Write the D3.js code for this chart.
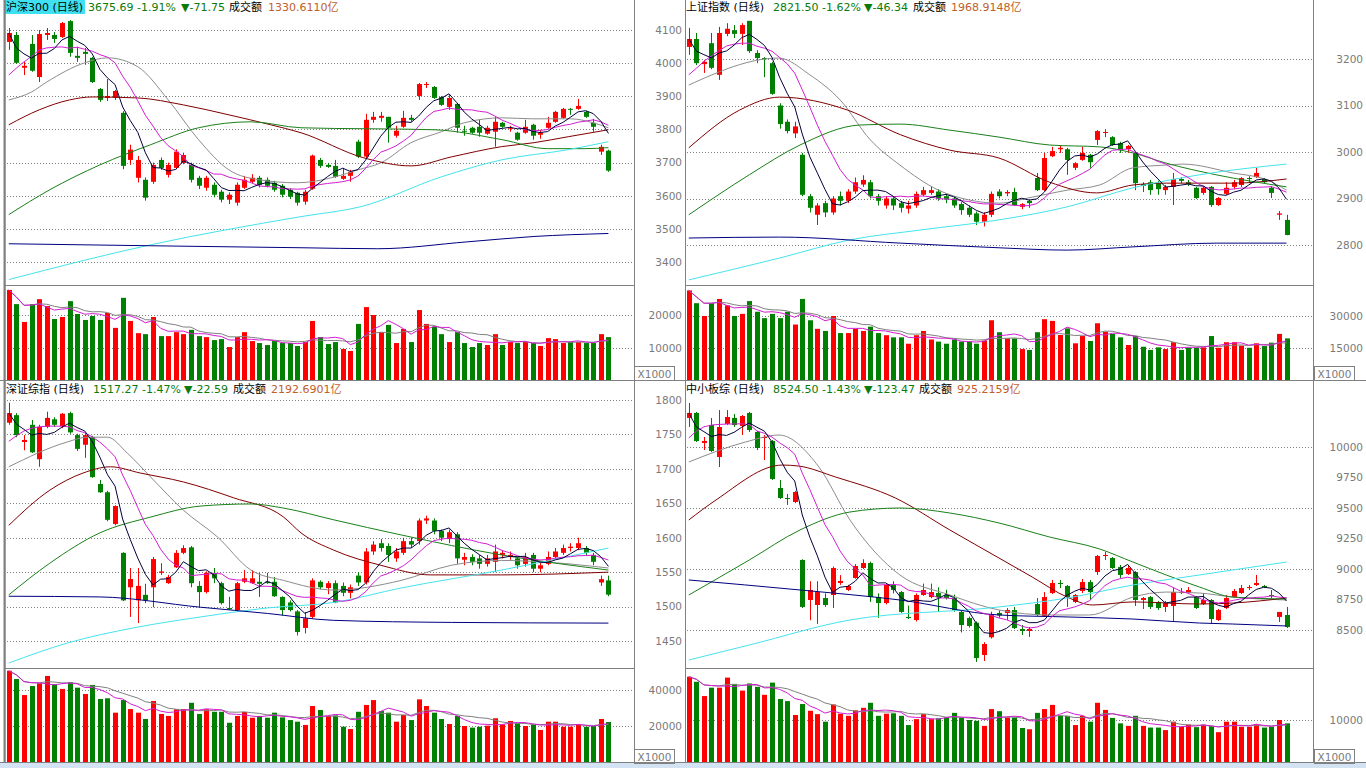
<!DOCTYPE html>
<html><head><meta charset="utf-8">
<script src="https://cdn.jsdelivr.net/npm/d3@7"></script>
<style>
html,body{margin:0;padding:0;background:#fff;overflow:hidden}
svg{display:block}
</style></head><body>
<svg id="c" width="1366" height="768"></svg>
<script>
// ---------------- DATA ----------------
// [open, high, low, close]
const hs300Candles = [
[4064,4106,4040,4091],[4085,4094,3998,4001],[3986,4004,3964,3992],[4058,4085,3974,3977],[3958,4100,3943,4088],
[4085,4106,4070,4091],[4085,4094,4061,4073],[4079,4124,4076,4121],[4127,4130,4019,4031],[4022,4049,4004,4016],
[4034,4046,3995,4028],[4016,4019,3940,3943],[3922,3925,3883,3889],[3895,3952,3886,3901],[3895,3919,3889,3916],
[3850,3855,3680,3690],[3708,3754,3693,3739],[3654,3720,3640,3708],[3648,3655,3585,3594],[3642,3700,3636,3693],
[3708,3715,3678,3684],[3663,3700,3655,3693],[3684,3740,3680,3733],[3699,3730,3695,3723],[3693,3700,3640,3648],
[3654,3660,3620,3630],[3624,3660,3615,3654],[3633,3640,3595,3603],[3612,3618,3580,3588],[3588,3610,3575,3603],
[3579,3640,3570,3633],[3624,3660,3620,3648],[3642,3665,3638,3654],[3654,3660,3625,3633],[3648,3655,3625,3630],
[3639,3645,3612,3618],[3630,3635,3595,3603],[3618,3622,3590,3597],[3609,3612,3570,3579],[3582,3618,3573,3612],
[3621,3724,3618,3721],[3708,3714,3684,3690],[3693,3699,3684,3687],[3690,3708,3654,3657],[3651,3684,3648,3660],
[3660,3678,3642,3672],[3763,3769,3714,3718],[3718,3847,3714,3829],[3829,3853,3820,3838],[3835,3853,3823,3841],
[3838,3838,3760,3805],[3781,3811,3775,3796],[3808,3856,3805,3835],[3835,3844,3823,3829],[3901,3940,3889,3937],
[3934,3943,3925,3937],[3928,3931,3892,3895],[3898,3901,3871,3874],[3868,3904,3859,3895],[3877,3880,3790,3805],
[3796,3811,3781,3793],[3805,3808,3787,3790],[3808,3829,3778,3790],[3787,3811,3784,3805],[3793,3838,3748,3823],
[3820,3823,3805,3808],[3802,3811,3793,3805],[3790,3793,3766,3769],[3790,3829,3787,3808],[3814,3817,3769,3781],
[3784,3799,3772,3790],[3805,3838,3802,3820],[3823,3856,3820,3853],[3835,3865,3832,3862],[3862,3865,3844,3859],
[3862,3892,3859,3871],[3853,3856,3835,3838],[3820,3832,3793,3808],[3733,3754,3723,3747.44],[3736,3739,3672,3675.69]];
const hs300Volume = [27600,23300,17900,23300,24800,22700,18800,19400,24200,20300,
18500,19700,18500,20600,16100,25200,18200,14500,14200,19400,
13600,13600,14800,14200,15500,13600,13300,12400,12700,10300,
13300,14800,12100,11500,10900,12100,11500,11500,10600,11800,
18200,13300,11200,11800,9700,9100,17300,22400,20000,14800,
17000,11500,15800,11800,21500,17300,16400,14200,11800,14800,
11500,10300,11500,10900,14200,10900,11800,11500,11800,11500,
10600,13000,12700,11500,11800,11800,11500,11500,14200,13300];
const hs300Ma10Head = [3964,3985,4004,4020,4040,4046,4048,4049,4045];
const hs300Ma20 = [[0,3889],[3,3913],[5,3943],[10,4001],[13,4016],[17,3989],[21,3889],[25,3769],[29,3678],[33,3648],[38,3639],[43,3657],[46,3678],[49,3699],[53,3760],[57,3793],[60,3820],[65,3835],[69,3832],[74,3832],[77,3820],[79,3805]];
const hs300Ma30 = [[0,3814],[4,3859],[8,3889],[11,3898],[17,3895],[23,3874],[29,3844],[34.5,3814],[38.5,3790],[46.8,3714],[53,3690],[58.3,3717],[64.9,3748],[69.2,3760],[73.7,3778],[79,3799]];
const hs300Ma60 = [[0,3543],[5.4,3618],[12,3693],[18.7,3754],[25,3805],[31.9,3823],[38.5,3805],[56,3799],[65,3769],[71,3742],[75.9,3742],[79,3745]];
const hs300Ma120 = [[0,3347],[18.7,3452],[38.5,3537],[46.4,3567],[57,3657],[64.9,3708],[73.7,3739],[79,3763]];
const hs300Ma250 = [[0,3455],[18.7,3449],[38.5,3443],[48.6,3440],[60.5,3461],[69.2,3477],[79,3486]];

const shCandles = [
[3226,3267,3209,3243],[3243,3256,3187,3191],[3189,3198,3170,3194],[3234,3256,3178,3181],[3166,3269,3155,3256],
[3254,3277,3249,3265],[3262,3273,3245,3254],[3254,3277,3230,3273],[3282,3282,3213,3217],[3213,3219,3191,3202],
[3202,3204,3161,3200],[3191,3194,3123,3125],[3100,3105,3050,3060],[3065,3070,3040,3045],[3040,3065,3030,3055],
[2994,2998,2905,2908],[2905,2910,2870,2880],[2865,2890,2843,2885],[2890,2895,2860,2870],[2870,2905,2865,2900],
[2905,2915,2885,2895],[2895,2920,2890,2915],[2915,2945,2910,2935],[2930,2950,2925,2940],[2935,2940,2900,2905],
[2905,2910,2885,2895],[2885,2905,2878,2900],[2900,2905,2875,2885],[2890,2895,2870,2880],[2878,2895,2868,2885],
[2885,2915,2880,2910],[2908,2925,2905,2918],[2912,2925,2908,2918],[2915,2920,2895,2900],[2905,2910,2890,2898],
[2900,2905,2880,2885],[2888,2892,2865,2875],[2880,2885,2860,2865],[2868,2872,2843,2850],[2850,2870,2840,2865],
[2865,2915,2860,2910],[2915,2920,2900,2905],[2911,2918,2905,2914],[2914,2923,2884,2886],[2882,2890,2877,2888],
[2895,2897,2880,2890],[2944,2955,2916,2918],[2918,2998,2916,2987],[2991,3011,2989,3002],[3006,3015,2998,3009],
[3006,3009,2951,2983],[2966,2978,2961,2976],[2983,3011,2981,2998],[2994,2996,2966,2978],[3026,3047,3015,3045],
[3041,3049,3032,3043],[3032,3034,3013,3015],[3019,3022,2998,3004],[3006,3015,2998,3013],[2998,3000,2918,2933],
[2931,2935,2914,2927],[2935,2940,2908,2918],[2933,2938,2908,2920],[2918,2929,2908,2925],[2925,2955,2886,2942],
[2942,2946,2933,2938],[2935,2940,2927,2931],[2923,2925,2899,2901],[2912,2927,2908,2923],[2925,2927,2882,2886],
[2886,2903,2884,2901],[2910,2935,2908,2923],[2925,2940,2920,2935],[2929,2946,2925,2944],[2944,2948,2933,2942],
[2946,2966,2944,2955],[2942,2944,2933,2935],[2923,2927,2901,2912],[2865,2873,2854,2867.84],[2854,2865,2821,2821.5]];
const shVolume = [42000,36000,30000,36000,38000,35000,30000,31000,37000,32000,
29000,31000,29000,32000,26000,38000,28000,24000,23000,30000,
22000,22000,24000,23000,25000,22000,21000,20000,20000,17000,
21000,23000,19000,18000,17000,19000,18000,18000,17000,18500,
28000,22400,19500,19500,14500,14100,22400,28500,27700,21100,
24200,17200,20600,18300,26600,22600,21600,20000,16400,20600,
15600,14100,15300,14500,17700,14100,15100,15100,15300,20600,
15100,17700,17700,16100,15100,17200,15900,17500,21600,19500];
const shMa10Head = [3166,3180,3195,3207,3218,3228,3232,3234,3234];
const shMa20 = [[0,3144],[11.9,3202],[16,3166],[20,3112],[24,3026],[27.9,2972],[33,2918],[37,2897],[41,2890],[45.4,2903],[50,2918],[54.3,2929],[58.7,2966],[63.1,2972],[65.3,2974],[71.9,2955],[76.4,2940],[79,2918]];
const shMa30 = [[0,3009],[6.7,3090],[12,3118],[21,3090],[28,3037],[34.5,3004],[41,2987],[47.7,2935],[53.9,2912],[58.7,2929],[63.1,2933],[71.9,2933],[79,2942]];
const shMa60 = [[0,2865],[8,2951],[14.7,3015],[22.6,3058],[27.9,3060],[34.5,3047],[41,3032],[47.7,3015],[54.3,3011],[58.7,2998],[63.1,2976],[69.7,2951],[79,2925]];
const shMa120 = [[0,2725],[12,2772],[21.3,2811],[30.5,2832],[41,2854],[50,2882],[58.7,2923],[67.5,2951],[79,2974]];
const shMa250 = [[0,2815],[12,2817],[28,2804],[41,2794],[50,2789],[58.7,2796],[69.7,2804],[79,2804]];

const szzzCandles = [
[1767,1796,1764,1781],[1778,1781,1746,1749],[1739,1749,1727,1742],[1764,1771,1723,1724],[1714,1764,1703,1761],
[1761,1783,1759,1774],[1772,1775,1761,1764],[1762,1781,1759,1780],[1781,1783,1751,1753],[1749,1751,1726,1729],
[1735,1752,1716,1749],[1746,1748,1687,1688],[1678,1684,1665,1666],[1666,1668,1624,1626],[1620,1647,1618,1646],
[1578,1579,1508,1509],[1528,1556,1485,1540],[1509,1556,1476,1530],[1517,1533,1505,1509],[1528,1572,1499,1569],
[1549,1563,1546,1551],[1534,1546,1533,1543],[1557,1582,1556,1578],[1578,1589,1576,1585],[1586,1588,1528,1534],
[1530,1537,1499,1521],[1521,1551,1519,1549],[1549,1556,1534,1541],[1534,1536,1503,1505],[1498,1514,1495,1496],
[1495,1536,1493,1534],[1536,1553,1534,1541],[1534,1553,1533,1541],[1536,1549,1514,1533],[1536,1549,1533,1534],
[1536,1543,1514,1515],[1514,1515,1487,1495],[1506,1509,1493,1495],[1493,1495,1458,1463],[1469,1492,1461,1483],
[1485,1541,1483,1538],[1536,1538,1525,1528],[1527,1537,1518,1534],[1534,1538,1505,1506],[1530,1535,1515,1520],
[1520,1532,1512,1528],[1545,1550,1530,1535],[1535,1585,1532,1580],[1580,1595,1575,1590],[1592,1598,1580,1585],
[1588,1592,1565,1575],[1570,1585,1565,1580],[1578,1600,1575,1595],[1595,1600,1585,1590],[1595,1628,1590,1625],
[1625,1632,1620,1628],[1625,1628,1605,1610],[1610,1612,1595,1600],[1598,1612,1592,1608],[1605,1608,1562,1570],
[1568,1578,1560,1572],[1572,1576,1560,1565],[1570,1575,1555,1562],[1562,1575,1558,1570],[1565,1590,1550,1580],
[1575,1582,1570,1578],[1572,1580,1568,1575],[1570,1572,1555,1560],[1562,1578,1558,1572],[1575,1578,1550,1555],
[1555,1565,1550,1560],[1562,1580,1560,1572],[1572,1585,1570,1580],[1578,1590,1575,1585],[1585,1592,1580,1587],
[1585,1600,1582,1592],[1585,1588,1575,1578],[1575,1578,1560,1565],[1535,1545,1530,1539.86],[1538,1545,1515,1517.27]];
const szzzVolume = [50700,46100,37200,42200,43700,47800,43200,40600,44300,41300,
37800,42800,35000,35400,27400,34400,29400,27400,23900,33900,
26700,25600,29300,29400,32900,26700,29300,27900,27900,21800,
25600,27800,24600,25600,24600,27400,24800,23300,22400,20600,
31100,28900,25600,25900,19600,18300,27900,31700,34400,28300,
27400,22400,26100,23300,34800,31100,27400,23900,21100,25600,
20000,19100,19600,20200,24300,20900,22800,21500,20000,20900,
17800,22400,22400,19600,19600,20600,19600,20000,23900,22200];
const szzzMa10Head = [1740,1748,1755,1759,1761,1762,1762,1762,1761];
const szzzMa20 = [[0,1703],[7.7,1739],[10.3,1746],[13,1746],[15.6,1723],[18.7,1688],[23,1640],[27.5,1601],[31.9,1553],[36.2,1538],[42.8,1524],[51.7,1538],[58.3,1560],[64.9,1567],[71.5,1564],[79,1556]];
const szzzMa30 = [[0,1618],[5.4,1669],[9.8,1694],[13.4,1703],[17.3,1694],[23,1681],[29.6,1658],[36.2,1630],[38.5,1607],[42.8,1582],[49,1560],[55.6,1546],[64.9,1546],[79,1550]];
const szzzMa60 = [[0,1517],[5.4,1563],[12,1607],[18.7,1630],[25.3,1646],[31.9,1649],[36.2,1643],[42.8,1626],[51.7,1604],[64.9,1575],[79,1553]];
const szzzMa120 = [[0,1418],[7.7,1447],[16.4,1469],[25.3,1485],[34.1,1498],[42.8,1506],[51.7,1527],[64.9,1553],[79,1585]];
const szzzMa250 = [[0,1515],[12,1514],[25.3,1499],[34.1,1490],[42.8,1480],[58.3,1477],[79,1476]];

const zxbCandles = [
[10238,10361,10164,10279],[10279,10287,10041,10049],[10033,10082,9975,10049],[10180,10238,9959,9967],[9918,10303,9836,10164],
[10189,10303,10180,10246],[10238,10270,10164,10180],[10172,10262,10098,10254],[10279,10287,10123,10139],[10123,10131,9975,9992],
[10074,10098,9893,10082],[10049,10057,9730,9738],[9664,9730,9574,9582],[9582,9615,9525,9574],[9549,9640,9540,9631],
[9074,9080,8680,8689],[8746,8900,8580,8828],[8705,8900,8550,8811],[8762,8800,8690,8705],[8787,9020,8680,9008],
[8885,8950,8870,8902],[8828,8870,8820,8861],[8926,9040,8920,9025],[9008,9080,9000,9049],[9049,9060,8730,8770],
[8770,8800,8600,8721],[8721,8880,8710,8869],[8869,8900,8800,8828],[8811,8820,8640,8648],[8607,8700,8590,8598],
[8582,8800,8570,8787],[8787,8880,8780,8828],[8770,8880,8760,8811],[8803,8850,8650,8770],[8787,8830,8750,8762],
[8762,8790,8650,8664],[8648,8660,8480,8541],[8598,8610,8520,8533],[8560,8570,8238,8270],[8295,8400,8246,8385],
[8440,8650,8430,8630],[8640,8660,8600,8620],[8639,8680,8582,8664],[8664,8689,8508,8516],[8508,8541,8459,8492],
[8492,8525,8443,8508],[8713,8762,8615,8623],[8615,8811,8607,8770],[8803,8910,8795,8885],[8885,8910,8844,8877],
[8861,8869,8689,8770],[8730,8795,8721,8787],[8820,8918,8803,8893],[8893,8910,8746,8811],[8975,9115,8951,9107],
[9107,9139,9074,9115],[9090,9098,9000,9008],[9016,9033,8926,8951],[8959,9033,8951,9008],[8975,8984,8697,8746],
[8746,8770,8672,8762],[8770,8779,8672,8689],[8730,8738,8664,8680],[8689,8738,8648,8721],[8697,8844,8574,8811],
[8803,8844,8795,8811],[8803,8852,8795,8828],[8770,8779,8672,8680],[8713,8803,8705,8746],[8746,8754,8549,8590],
[8582,8672,8574,8664],[8680,8787,8672,8762],[8770,8836,8762,8820],[8803,8869,8795,8844],[8844,8869,8828,8852],
[8869,8951,8861,8885],[8861,8869,8844,8852],[8787,8828,8762,8779],[8607,8648,8566,8647.97],[8623,8689,8516,8524.5]];
const zxbVolume = [20300,19100,15700,17700,17700,20100,18600,17000,18700,17900,
16000,18900,15000,14500,11200,13800,12200,11400,9600,13700,
11500,11000,12300,12900,14100,11000,11500,11600,11000,8800,
10200,11400,10200,10400,10600,11700,10500,10000,9800,8600,
12600,12100,10600,10600,8100,7800,11700,12600,13600,11000,
11000,8800,11000,9600,14100,12400,10500,9200,8600,11000,
8600,8200,8200,7600,9600,8400,8900,8300,8900,8600,
7100,9600,9600,8400,8400,9000,8200,8400,10000,9200];
const zxbMa10Head = [10074,10130,10165,10180,10185,10188,10189,10190,10185];
const zxbMa20 = [[0,9877],[7.5,10041],[11.9,10098],[17.2,9836],[21.3,9402],[27.9,8951],[34.5,8787],[41,8664],[47.7,8623],[53,8623],[58.7,8770],[63.1,8811],[67.5,8803],[71.9,8770],[79,8746]];
const zxbMa30 = [[0,9402],[3.6,9566],[12.4,9852],[14.5,9844],[19.4,9754],[27.3,9582],[34.5,9320],[41,9090],[45.4,8934],[50,8770],[53.4,8705],[58.7,8730],[67.5,8713],[71.9,8721],[79,8762]];
const zxbMa60 = [[0,8787],[8,9074],[14.7,9320],[21.3,9467],[27.9,9500],[34.5,9459],[41,9377],[47.7,9262],[54.3,9164],[58.7,9057],[63.1,8951],[67.5,8852],[71.9,8770],[79,8754]];
const zxbMa120 = [[0,8254],[8,8377],[21.3,8582],[41,8689],[50,8762],[58.7,8869],[67.5,8951],[71.9,8992],[79,9057]];
const zxbMa250 = [[0,8910],[14.7,8828],[27.9,8746],[41,8623],[50,8607],[58.7,8590],[67.5,8557],[71.9,8549],[79,8533]];

// tick labels
const hs300Ticks = [3400,3500,3600,3700,3800,3900,4000,4100];
const shTicks = [2800,2900,3000,3100,3200];
const szzzTicks = [1450,1500,1550,1600,1650,1700,1750,1800];
const zxbTicks = [8500,8750,9000,9250,9500,9750,10000];
const zxbGrid = [8500,9000,9500,10000];
const hs300VolTicks = [10000,20000];
const shVolTicks = [15000,30000];
const szzzVolTicks = [20000,40000];
const zxbVolTicks = [10000];

// titles
const hs300Title = ["沪深300 (日线)","3675.69 -1.91%","▼-71.75","成交额","1330.6110亿"];
const shTitle = ["上证指数 (日线)","2821.50 -1.62%","▼-46.34","成交额","1968.9148亿"];
const szzzTitle = ["深证综指 (日线)","1517.27 -1.47%","▼-22.59","成交额","2192.6901亿"];
const zxbTitle = ["中小板综 (日线)","8524.50 -1.43%","▼-123.47","成交额","925.2159亿"];

// ---------------- DRAW ----------------
const RED = "#ff0000", GREEN = "#008000", GRAY = "#808080";
const FONT = "'DejaVu Sans','Noto Sans CJK SC',sans-serif";
const svg = d3.select("#c");
const defs = svg.append("defs");

svg.append("rect").attr("x",0).attr("y",763).attr("width",1366).attr("height",5).attr("fill","#d4e3f3");

function movingAvg(vals, n, head) {
  return vals.map((v, i) => i >= n - 1 ? d3.mean(vals.slice(i - n + 1, i + 1))
    : (head ? head[i] : d3.mean(vals.slice(0, i + 1))));
}

const panels = [
 {id:"tl", left:5, right:635, top:0, sep:285, bottom:380, axisX:682,
  candles:hs300Candles, volume:hs300Volume, head:hs300Ma10Head,
  mas:[hs300Ma20,hs300Ma30,hs300Ma60,hs300Ma120,hs300Ma250],
  pDomain:[3400,4100], pRange:[262,30], pTicks:hs300Ticks, pGrid:hs300Ticks,
  vDomain:[0,20000], vRange:[381,315], vTicks:hs300VolTicks,
  title:hs300Title, tx:[6,88,181,229,268], ty:11, hl:true, box:[634,366]},
 {id:"tr", left:685, right:1313, top:0, sep:285, bottom:380, axisX:1363,
  candles:shCandles, volume:shVolume, head:shMa10Head,
  mas:[shMa20,shMa30,shMa60,shMa120,shMa250],
  pDomain:[2800,3200], pRange:[245,59], pTicks:shTicks, pGrid:shTicks,
  vDomain:[0,30000], vRange:[380,316], vTicks:shVolTicks,
  title:shTitle, tx:[686,773,864,913,951], ty:11, hl:false, box:[1314,366]},
 {id:"bl", left:5, right:635, top:381, sep:668, bottom:762, axisX:682,
  candles:szzzCandles, volume:szzzVolume, head:szzzMa10Head,
  mas:[szzzMa20,szzzMa30,szzzMa60,szzzMa120,szzzMa250],
  pDomain:[1450,1800], pRange:[641,400], pTicks:szzzTicks, pGrid:szzzTicks,
  vDomain:[0,40000], vRange:[762,690], vTicks:szzzVolTicks,
  title:szzzTitle, tx:[6,93,184,233,271], ty:393, hl:false, box:[634,749]},
 {id:"br", left:685, right:1313, top:381, sep:668, bottom:762, axisX:1363,
  candles:zxbCandles, volume:zxbVolume, head:zxbMa10Head,
  mas:[zxbMa20,zxbMa30,zxbMa60,zxbMa120,zxbMa250],
  pDomain:[8500,10000], pRange:[630,447], pTicks:zxbTicks, pGrid:zxbGrid,
  vDomain:[0,10000], vRange:[762,720], vTicks:zxbVolTicks,
  title:zxbTitle, tx:[686,773,864,919,957], ty:393, hl:false, box:[1314,749]}
];
const maColors = ["#8c8c8c","#800000","#1a801a","#44e4ec","#000080"];

panels.forEach(p => {
  const x = d3.scaleLinear().domain([-0.5, 82.5]).range([p.left, p.right]);
  const y = d3.scaleLinear().domain(p.pDomain).range(p.pRange);
  const yv = d3.scaleLinear().domain(p.vDomain).range(p.vRange);
  defs.append("clipPath").attr("id", p.id + "P").append("rect")
    .attr("x", p.left + 1).attr("y", p.top).attr("width", p.right - p.left - 1).attr("height", p.sep - p.top);
  defs.append("clipPath").attr("id", p.id + "V").append("rect")
    .attr("x", p.left + 1).attr("y", p.sep + 1).attr("width", p.right - p.left - 1).attr("height", p.bottom - p.sep - 1);
  const g = svg.append("g");

  g.selectAll(null).data(p.pGrid).join("line")
    .attr("x1", p.left + 2).attr("x2", p.right - 1)
    .attr("y1", d => Math.round(y(d)) + 0.5).attr("y2", d => Math.round(y(d)) + 0.5)
    .attr("stroke", GRAY).attr("stroke-dasharray", "1,2");
  g.selectAll(null).data(p.vTicks).join("line")
    .attr("x1", p.left + 2).attr("x2", p.right - 1)
    .attr("y1", d => Math.round(yv(d)) + 0.5).attr("y2", d => Math.round(yv(d)) + 0.5)
    .attr("stroke", GRAY).attr("stroke-dasharray", "1,2");

  const styleAxis = sel => {
    sel.select(".domain").remove();
    sel.attr("font-family", null).attr("font-size", null);
    sel.selectAll("text").attr("fill", "#7a7a7a").style("font-family", FONT).style("font-size", "10.5px");
  };
  g.append("g").attr("transform", `translate(${p.axisX},0)`)
    .call(d3.axisLeft(y).tickValues(p.pTicks).tickSize(0).tickPadding(0).tickFormat(d3.format("d")))
    .call(styleAxis);
  g.append("g").attr("transform", `translate(${p.axisX},0)`)
    .call(d3.axisLeft(yv).tickValues(p.vTicks).tickSize(0).tickPadding(0).tickFormat(d3.format("d")))
    .call(styleAxis);

  g.append("rect").attr("x", p.box[0] + 0.5).attr("y", p.box[1] + 0.5).attr("width", 40).attr("height", 14)
    .attr("fill", "#fff").attr("stroke", GRAY);
  g.append("text").attr("x", p.box[0] + 20.5).attr("y", p.box[1] + 11.5).attr("text-anchor", "middle")
    .attr("fill", "#7a7a7a").style("font-family", FONT).style("font-size", "10.5px").text("X1000");

  const cg = g.append("g").attr("clip-path", `url(#${p.id}P)`);
  const colorOf = d => d[3] >= d[0] ? RED : GREEN;
  cg.selectAll(null).data(p.candles).join("line")
    .attr("x1", (d, i) => Math.round(x(i)) + 0.5).attr("x2", (d, i) => Math.round(x(i)) + 0.5)
    .attr("y1", d => y(d[1])).attr("y2", d => y(d[2]))
    .attr("stroke", colorOf).attr("stroke-width", 1);
  cg.selectAll(null).data(p.candles).join("rect")
    .attr("x", (d, i) => Math.round(x(i)) - 2).attr("width", 5)
    .attr("y", d => Math.min(y(d[0]), y(d[3])))
    .attr("height", d => Math.max(1, Math.abs(y(d[0]) - y(d[3]))))
    .attr("fill", colorOf);

  const closes = p.candles.map(d => d[3]);
  const ma5 = movingAvg(closes, 5, null);
  const ma10 = movingAvg(closes, 10, p.head);
  const lineC = d3.line().x((d, i) => x(i)).y(d => y(d));
  const lineS = d3.line().x(d => x(d[0])).y(d => y(d[1])).curve(d3.curveMonotoneX);
  p.mas.forEach((m, k) => {
    cg.append("path").attr("d", lineS(m)).attr("fill", "none").attr("stroke", maColors[k]).attr("stroke-width", 1);
  });
  cg.append("path").attr("d", lineC(ma10)).attr("fill", "none").attr("stroke", "#d21ed2").attr("stroke-width", 1);
  cg.append("path").attr("d", lineC(ma5)).attr("fill", "none").attr("stroke", "#00003c").attr("stroke-width", 1);

  const vg = g.append("g").attr("clip-path", `url(#${p.id}V)`);
  vg.selectAll(null).data(p.volume).join("rect")
    .attr("x", (d, i) => Math.round(x(i)) - 2).attr("width", 5)
    .attr("y", d => yv(d)).attr("height", d => p.vRange[0] - yv(d))
    .attr("fill", (d, i) => colorOf(p.candles[i]));
  const v5 = movingAvg(p.volume, 5, null), v10 = movingAvg(p.volume, 10, null);
  const lineV = d3.line().x((d, i) => x(i)).y(d => yv(d));
  vg.append("path").attr("d", lineV(v10)).attr("fill", "none").attr("stroke", GRAY).attr("stroke-width", 1);
  vg.append("path").attr("d", lineV(v5)).attr("fill", "none").attr("stroke", "#d21ed2").attr("stroke-width", 1);

  if (p.hl) g.append("rect").attr("x", 5).attr("y", 0).attr("width", 80).attr("height", 14).attr("fill", "#3ee0f2");
  const tColors = ["#000", "#0a7a0a", "#0a7a0a", "#000", "#c0602a"];
  p.title.forEach((t, k) => {
    g.append("text").attr("x", p.tx[k]).attr("y", p.ty).attr("fill", tColors[k])
      .style("font-family", FONT).style("font-size", "11px").text(t);
  });
});

const frame = svg.append("g").attr("stroke", GRAY).attr("stroke-width", 1);
[[5, 0, 5, 762], [634.5, 0, 634.5, 762], [685.5, 0, 685.5, 762], [1313.5, 0, 1313.5, 762],
 [5, 285.5, 634, 285.5], [685, 285.5, 1313, 285.5], [0, 380.5, 1366, 380.5],
 [5, 668.5, 634, 668.5], [685, 668.5, 1313, 668.5], [0, 762.5, 1366, 762.5]].forEach(l => {
  frame.append("line").attr("x1", l[0]).attr("y1", l[1]).attr("x2", l[2]).attr("y2", l[3]);
});
frame.append("line").attr("x1", 4.5).attr("y1", 0).attr("x2", 4.5).attr("y2", 762).attr("stroke-width", 2);
</script></body></html>
